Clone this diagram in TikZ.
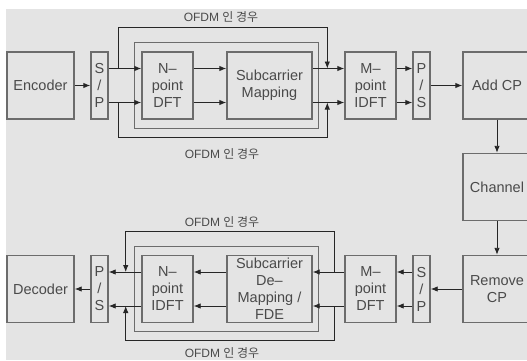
\documentclass[tikz,border=0pt]{standalone}
\usepackage{fontspec}
\setmainfont{Liberation Sans}
\newfontfamily\korfont{Noto Sans CJK KR}
\usepackage{tikz}
\usetikzlibrary{arrows.meta,calc}
\definecolor{cbg}{HTML}{E4E4E4}
\definecolor{cbox}{HTML}{6C6C6C}
\definecolor{ctxt}{HTML}{4A4A4A}
\definecolor{cwire}{HTML}{262626}

\begin{document}
\begin{tikzpicture}[x=1pt,y=-1pt,>={Latex[length=7pt,width=5.5pt]},
  blk/.style={draw=cbox,line width=1.4pt,text=ctxt,align=center,inner sep=0pt,
    minimum width=67pt,minimum height=67pt,font=\fontsize{14.5}{17}\selectfont},
  slim/.style={blk,minimum width=17pt},
  wide/.style={blk,minimum width=51pt},
  wire/.style={draw=cwire,line width=0.9pt},
  frame/.style={draw=cbox,line width=1.2pt},
  lbl/.style={text=ctxt,font=\fontsize{12}{14}\selectfont}]
  \useasboundingbox (0,0) rectangle (527,360);
  \fill[cbg] (6,9) rectangle (527,360);
  % transmitter
  \node[blk] (enc) at (40.5,85.5) {Encoder};
  \node[slim] (sp1) at (99.5,85.5) {S\\/\\P};
  \node[wide] (ndft) at (167.5,85.5) {N--\\point\\DFT};
  \node[blk,minimum width=85pt] (map) at (269.5,85.5) {Subcarrier\\Mapping};
  \node[wide] (midft) at (370.5,85.5) {M--\\point\\IDFT};
  \node[slim] (ps1) at (421.5,85.5) {P\\/\\S};
  \node[blk,minimum width=68pt] (addcp) at (497,85.5) {Add CP};
  \node[blk,minimum width=68pt] (chan) at (497,187) {Channel};
  % receiver
  \node[blk,minimum width=68pt] (rmcp) at (497,289) {Remove\\CP};
  \node[slim] (sp2) at (421.5,289) {S\\/\\P};
  \node[wide] (mdft) at (370.5,289) {M--\\point\\DFT};
  \node[blk,minimum width=85pt] (demap) at (269.5,289) {Subcarrier\\De--\\Mapping /\\FDE};
  \node[wide] (nidft) at (167.5,289) {N--\\point\\IDFT};
  \node[slim] (ps2) at (99.5,289) {P\\/\\S};
  \node[blk] (dec) at (40.5,289) {Decoder};
  \node[lbl] (t1) at (221,17) {OFDM {\korfont 인 경우}};
  \node[lbl] (t2) at (222,154) {OFDM {\korfont 인 경우}};
  \node[lbl] (t3) at (222,222) {OFDM {\korfont 인 경우}};
  \node[lbl] (t4) at (222,353) {OFDM {\korfont 인 경우}};

  \draw[frame] ($(ndft.north west)+(-7,-9)$) rectangle ($(map.south east)+(6,9)$);
  \draw[frame] ($(nidft.north west)+(-7,-8.5)$) rectangle ($(demap.south east)+(6,8.5)$);

  \draw[wire,->] (enc) -- (sp1);
  \draw[wire,->] (ps1) -- (addcp);
  \draw[wire,->] (addcp) -- (chan);
  \draw[wire,->] (chan) -- (rmcp);
  \draw[wire,->] (rmcp) -- (sp2);
  \draw[wire,->] (ps2) -- (dec);
  \foreach \dy in {-17,17} {
    \draw[wire,->] ([yshift=\dy pt]sp1.east) -- ([yshift=\dy pt]ndft.west);
    \draw[wire,->] ([yshift=\dy pt]ndft.east) -- ([yshift=\dy pt]map.west);
    \draw[wire,->] ([yshift=\dy pt]map.east) -- ([yshift=\dy pt]midft.west);
    \draw[wire,->] ([yshift=\dy pt]midft.east) -- ([yshift=\dy pt]ps1.west);
    \draw[wire,->] ([yshift=\dy pt]sp2.west) -- ([yshift=\dy pt]mdft.east);
    \draw[wire,->] ([yshift=\dy pt]mdft.west) -- ([yshift=\dy pt]demap.east);
    \draw[wire,->] ([yshift=\dy pt]demap.west) -- ([yshift=\dy pt]nidft.east);
    \draw[wire,->] ([yshift=\dy pt]nidft.west) -- ([yshift=\dy pt]ps2.east);
  }
  % OFDM bypass
  \draw[wire,->] ($(sp1.east)+(10,-17)$) -- ++(0,-41) -| ($(midft.west)+(-17,-17)$);
  \draw[wire,->] ($(sp1.east)+(10,17)$) -- ++(0,35) -| ($(midft.west)+(-17,17)$);
  \draw[wire,->] ($(mdft.west)+(-10,-17)$) -- ++(0,-41) -| ($(ps2.east)+(17,-17)$);
  \draw[wire,->] ($(mdft.west)+(-10,17)$) -- ++(0,34) -| ($(ps2.east)+(17,17)$);
\end{tikzpicture}
\end{document}
